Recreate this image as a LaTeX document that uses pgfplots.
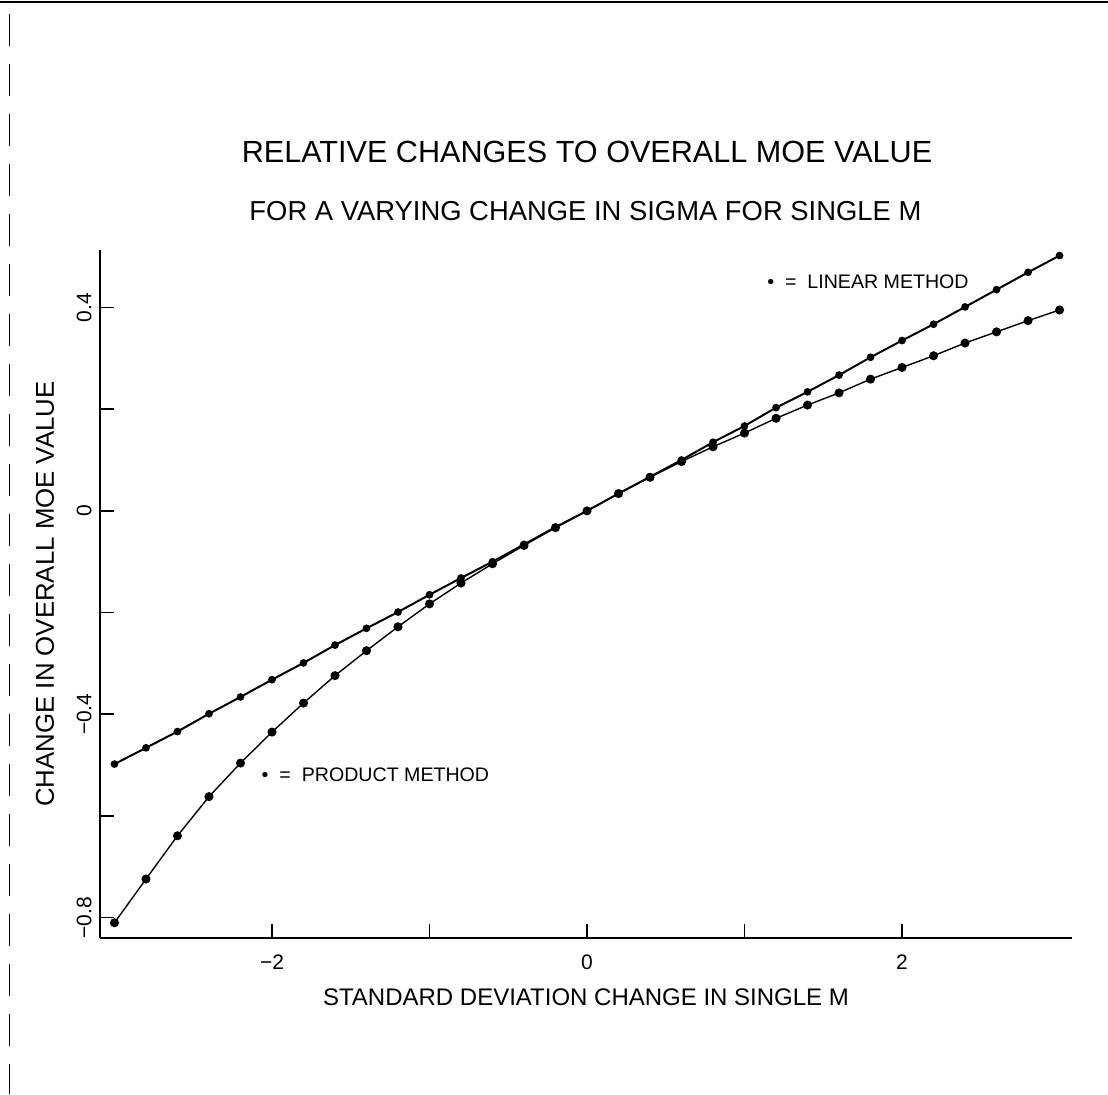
\documentclass[border=0pt]{standalone}
\usepackage{fontspec}
\setmainfont{Liberation Sans}
\usepackage{pgfplots}
\pgfplotsset{compat=1.18}
\pgfplotstableread{
x y
-3.0 -0.498
-2.8 -0.466
-2.6 -0.434
-2.4 -0.399
-2.2 -0.366
-2.0 -0.332
-1.8 -0.299
-1.6 -0.264
-1.4 -0.231
-1.2 -0.199
-1.0 -0.165
-0.8 -0.132
-0.6 -0.100
-0.4 -0.066
-0.2 -0.032
0.0 0.000
0.2 0.034
0.4 0.067
0.6 0.100
0.8 0.135
1.0 0.167
1.2 0.203
1.4 0.234
1.6 0.267
1.8 0.302
2.0 0.335
2.2 0.367
2.4 0.401
2.6 0.435
2.8 0.469
3.0 0.502
}\linear
\pgfplotstableread{
x y
-3.0 -0.810
-2.8 -0.724
-2.6 -0.639
-2.4 -0.562
-2.2 -0.496
-2.0 -0.435
-1.8 -0.378
-1.6 -0.324
-1.4 -0.275
-1.2 -0.228
-1.0 -0.183
-0.8 -0.142
-0.6 -0.104
-0.4 -0.068
-0.2 -0.033
0.0 0.000
0.2 0.034
0.4 0.066
0.6 0.097
0.8 0.126
1.0 0.153
1.2 0.182
1.4 0.208
1.6 0.232
1.8 0.259
2.0 0.282
2.2 0.305
2.4 0.330
2.6 0.352
2.8 0.374
3.0 0.395
}\product
\begin{document}
\begin{tikzpicture}
\path[use as bounding box] (-50pt,-78pt) rectangle (504pt,469pt);
\draw[line width=0.8pt] (-50pt,468pt) -- (504pt,468pt);
\draw[line width=0.5pt, dash pattern=on 16pt off 9pt] (-45pt,462pt) -- (-45pt,-78pt);
\begin{axis}[
  at={(0pt,0pt)}, anchor=south west,
  scale only axis, width=486pt, height=344pt,
  xmin=-3.092, xmax=3.079, ymin=-0.840, ymax=0.513,
  axis x line=bottom, axis y line=left,
  axis line style={-, line width=1.2pt},
  tick align=inside, major tick length=7pt,
  tick style={line width=0.8pt, black},
  xtick={-2,-1,0,1,2}, xticklabels={−2,,0,,2},
  ytick={-0.8,-0.6,-0.4,-0.2,0,0.2,0.4}, yticklabels={−0.8,,−0.4,,0,,0.4},
  xticklabel style={font=\fontsize{10.5}{12}\selectfont, yshift=-5pt},
  yticklabel style={font=\fontsize{10.5}{12}\selectfont, rotate=90, anchor=south, inner ysep=4pt},
  xlabel={STANDARD DEVIATION CHANGE IN SINGLE M},
  ylabel={CHANGE IN OVERALL MOE VALUE},
  every axis x label/.style={at={([yshift=-29.5pt]axis description cs:0.5,0)}, anchor=center, font=\fontsize{12}{14}\selectfont},
  every axis y label/.style={at={([xshift=-27.5pt]axis description cs:0,0.5)}, anchor=center, rotate=90, font=\fontsize{12.9}{15}\selectfont},
  clip=false,
]
\addplot[black, line width=1pt, mark=*, mark size=1.4pt] table {\linear};
\addplot[black, line width=0.7pt, mark=*, mark size=1.9pt, mark options={fill=black}] table {\product};
\node[anchor=west, font=\fontsize{9.8}{11}\selectfont] at (axis cs:1.10,0.450) {•\ \ =\ \ LINEAR METHOD};
\node[anchor=west, font=\fontsize{9.8}{11}\selectfont] at (axis cs:-2.11,-0.519) {•\ \ =\ \ PRODUCT METHOD};
\node[font=\fontsize{15.3}{17}\selectfont] at (axis cs:0,0.706) {RELATIVE CHANGES TO OVERALL MOE VALUE};
\node[font=\fontsize{13.7}{15}\selectfont] at (axis cs:-0.01,0.590) {FOR A VARYING CHANGE IN SIGMA FOR SINGLE M};
\end{axis}
\end{tikzpicture}
\end{document}
